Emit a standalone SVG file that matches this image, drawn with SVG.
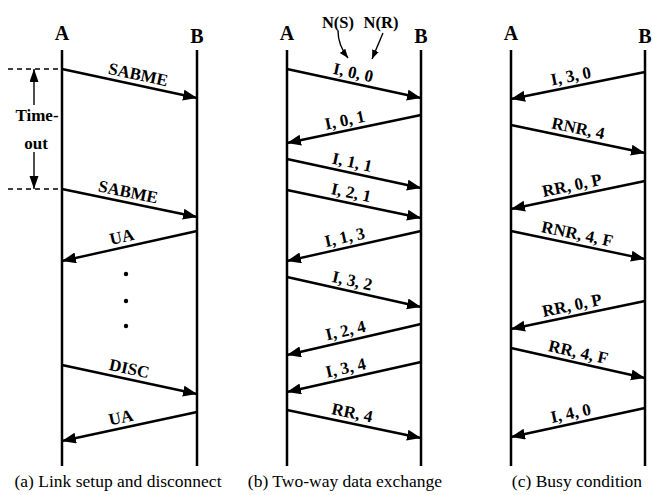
<svg xmlns="http://www.w3.org/2000/svg" width="652" height="495" viewBox="0 0 652 495">
<style>
.life{stroke:#000;stroke-width:2.5;fill:none}
.msg{stroke:#000;stroke-width:2.4;fill:none;marker-end:url(#ah)}
.thin{stroke:#000;stroke-width:1.4;fill:none}
.dash{stroke:#000;stroke-width:1.5;stroke-dasharray:5 4;fill:none}
text{font-family:"Liberation Serif","DejaVu Serif",serif;fill:#000;text-anchor:middle}
.lbl{font-weight:bold;font-size:17px}
.hdr{font-weight:bold;font-size:20px}
.cap{font-size:17.5px}
</style>
<defs>
<marker id="ah" markerUnits="userSpaceOnUse" markerWidth="15" markerHeight="12" refX="14" refY="5.5" orient="auto">
<path d="M0,0 L14,5.5 L0,11 z" fill="#000"/>
</marker>
<marker id="sh" markerUnits="userSpaceOnUse" markerWidth="14" markerHeight="10" refX="13" refY="4.5" orient="auto">
<path d="M0,0 L13,4.5 L0,9 z" fill="#000"/>
</marker>
<marker id="th" markerUnits="userSpaceOnUse" markerWidth="10" markerHeight="8" refX="9" refY="3.5" orient="auto">
<path d="M0,0 L9,3.5 L0,7 z" fill="#000"/>
</marker>
</defs>
<rect width="652" height="495" fill="#fff"/>

<!-- Panel (a) -->
<g id="panel-a">
<g id="a-A"><text class="hdr" x="62" y="40">A</text><line class="life" x1="62" y1="50" x2="62" y2="466"/></g>
<g id="a-B"><text class="hdr" x="197" y="43">B</text><line class="life" x1="197" y1="50" x2="197" y2="466"/></g>
<g id="a-timeout">
<line class="dash" x1="8" y1="69" x2="62" y2="69"/>
<line class="dash" x1="8" y1="189" x2="62" y2="189"/>
<line class="thin" x1="34" y1="105" x2="34" y2="69" marker-end="url(#sh)"/>
<line class="thin" x1="34" y1="152" x2="34" y2="189" marker-end="url(#sh)"/>
<text class="lbl" x="37" y="121">Time-</text>
<text class="lbl" x="36" y="149">out</text>
</g>
<g id="a-dots" fill="#000">
<circle cx="126" cy="274" r="2.2"/><circle cx="126" cy="301" r="2.2"/><circle cx="126" cy="326" r="2.2"/>
</g>
<text class="cap" x="118" y="487">(a) Link setup and disconnect</text>
</g>

<!-- Panel (b) -->
<g id="panel-b">
<g id="b-A"><text class="hdr" x="287" y="40">A</text><line class="life" x1="287" y1="50" x2="287" y2="466"/></g>
<g id="b-B"><text class="hdr" x="421" y="43">B</text><line class="life" x1="421" y1="50" x2="421" y2="466"/></g>
<g id="b-ns">
<text class="lbl" x="338" y="28" style="font-size:16.5px">N(S)</text>
<path class="thin" d="M338,31 Q338,45 348,58" marker-end="url(#th)"/>
</g>
<g id="b-nr">
<text class="lbl" x="381" y="28" style="font-size:16.5px">N(R)</text>
<path class="thin" d="M383,33 L372,59" marker-end="url(#th)"/>
</g>
<text class="cap" x="345" y="487">(b) Two-way data exchange</text>
</g>

<!-- Panel (c) -->
<g id="panel-c">
<g id="c-A"><text class="hdr" x="511" y="40">A</text><line class="life" x1="511" y1="50" x2="511" y2="466"/></g>
<g id="c-B"><text class="hdr" x="645" y="43">B</text><line class="life" x1="645" y1="50" x2="645" y2="466"/></g>
<text class="cap" x="577" y="487">(c) Busy condition</text>
</g>

<!-- Connectors -->
<g id="connectors">
<line class="msg" x1="62" y1="69" x2="197" y2="98"/>
<line class="msg" x1="62" y1="189" x2="197" y2="217"/>
<line class="msg" x1="197" y1="231" x2="62" y2="261"/>
<line class="msg" x1="62" y1="365" x2="197" y2="394"/>
<line class="msg" x1="197" y1="412" x2="62" y2="441"/>

<line class="msg" x1="287" y1="69" x2="421" y2="98"/>
<line class="msg" x1="421" y1="115" x2="287" y2="143"/>
<line class="msg" x1="287" y1="159" x2="421" y2="188"/>
<line class="msg" x1="287" y1="190" x2="421" y2="218"/>
<line class="msg" x1="421" y1="231" x2="287" y2="261"/>
<line class="msg" x1="287" y1="277" x2="421" y2="307"/>
<line class="msg" x1="421" y1="324" x2="287" y2="355"/>
<line class="msg" x1="421" y1="362" x2="287" y2="392"/>
<line class="msg" x1="287" y1="410" x2="421" y2="438"/>

<line class="msg" x1="645" y1="72" x2="511" y2="99"/>
<line class="msg" x1="511" y1="125" x2="645" y2="153"/>
<line class="msg" x1="645" y1="181" x2="511" y2="209"/>
<line class="msg" x1="511" y1="231" x2="645" y2="259"/>
<line class="msg" x1="645" y1="301" x2="511" y2="329"/>
<line class="msg" x1="511" y1="348" x2="645" y2="378"/>
<line class="msg" x1="645" y1="408" x2="511" y2="437"/>
</g>

<!-- Connector labels -->
<g id="labels">
<text class="lbl" transform="translate(136,84.9) rotate(12.12)" y="-5">SABME</text>
<text class="lbl" transform="translate(126,202.3) rotate(11.72)" y="-5">SABME</text>
<text class="lbl" transform="translate(124,247.2) rotate(-12.53)" y="-5">UA</text>
<text class="lbl" transform="translate(127,379) rotate(12.12)" y="-5">DISC</text>
<text class="lbl" transform="translate(123,427.9) rotate(-12.12)" y="-5">UA</text>

<text class="lbl" transform="translate(351,82.9) rotate(12.21)" y="-5">I, 0, 0</text>
<text class="lbl" transform="translate(347,130.5) rotate(-11.8)" y="-5">I, 0, 1</text>
<text class="lbl" transform="translate(350,172.6) rotate(12.21)" y="-5">I, 1, 1</text>
<text class="lbl" transform="translate(349,203) rotate(11.8)" y="-5">I, 2, 1</text>
<text class="lbl" transform="translate(347,247.6) rotate(-12.62)" y="-5">I, 1, 3</text>
<text class="lbl" transform="translate(350,291.1) rotate(12.62)" y="-5">I, 3, 2</text>
<text class="lbl" transform="translate(348,340.9) rotate(-13.03)" y="-5">I, 2, 4</text>
<text class="lbl" transform="translate(348,378.3) rotate(-12.62)" y="-5">I, 3, 4</text>
<text class="lbl" transform="translate(350,423.2) rotate(11.8)" y="-5">RR, 4</text>

<text class="lbl" transform="translate(573,86.5) rotate(-11.39)" y="-5">I, 3, 0</text>
<text class="lbl" transform="translate(576,138.6) rotate(11.8)" y="-5">RNR, 4</text>
<text class="lbl" transform="translate(574,195.8) rotate(-11.8)" y="-5">RR, 0, P</text>
<text class="lbl" transform="translate(575,244.4) rotate(11.8)" y="-5">RNR, 4, F</text>
<text class="lbl" transform="translate(574,315.8) rotate(-11.8)" y="-5">RR, 0, P</text>
<text class="lbl" transform="translate(576,362.6) rotate(12.62)" y="-5">RR, 4, F</text>
<text class="lbl" transform="translate(573,423.6) rotate(-12.21)" y="-5">I, 4, 0</text>
</g>
</svg>
